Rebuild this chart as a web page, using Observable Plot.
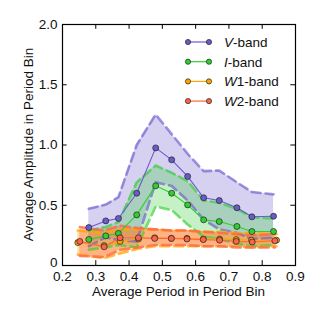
<!DOCTYPE html>
<html><head><meta charset="utf-8">
<script src="https://cdn.jsdelivr.net/npm/d3@7"></script>
<script src="https://cdn.jsdelivr.net/npm/@observablehq/plot@0.6"></script>
<style>body{margin:0;background:#fff} #chart svg{font-family:"Liberation Sans",Arial,sans-serif;background:#fff}</style>
</head><body><div id="chart"></div>
<script>
// ---- data ----
const bandNames = ["V", "I", "W1", "W2"];
const vX     = [0.279,0.330,0.368,0.423,0.480,0.528,0.576,0.624,0.671,0.724,0.769,0.834];
const vMean  = [0.315,0.370,0.390,0.600,0.976,0.877,0.739,0.562,0.539,0.479,0.404,0.409];
const vUpper = [0.470,0.506,0.567,1.000,1.253,1.090,0.927,0.783,0.788,0.690,0.610,0.590];
const vLower = [0.160,0.234,0.210,0.200,0.690,0.660,0.540,0.380,0.300,0.270,0.220,0.230];

const iX     = [0.279,0.330,0.368,0.423,0.480,0.528,0.576,0.624,0.671,0.724,0.769,0.834];
const iMean  = [0.216,0.246,0.266,0.420,0.661,0.600,0.503,0.379,0.365,0.324,0.282,0.282];
const iUpper = [0.290,0.320,0.360,0.690,0.830,0.770,0.700,0.540,0.520,0.470,0.400,0.390];
const iLower = [0.130,0.150,0.170,0.150,0.490,0.460,0.340,0.240,0.220,0.180,0.160,0.170];

const w1X     = [0.246,0.325,0.373,0.428,0.477,0.527,0.574,0.623,0.672,0.722,0.768,0.843];
const w1Mean  = [0.190,0.165,0.200,0.220,0.230,0.225,0.225,0.220,0.220,0.215,0.210,0.210];
const w1Upper = [0.290,0.270,0.300,0.300,0.300,0.290,0.290,0.280,0.280,0.270,0.270,0.260];
const w1Lower = [0.090,0.060,0.100,0.140,0.160,0.160,0.160,0.160,0.160,0.160,0.150,0.160];

const w2X     = [0.252,0.325,0.373,0.428,0.477,0.527,0.574,0.623,0.672,0.722,0.770,0.838];
const w2Mean  = [0.200,0.155,0.230,0.230,0.225,0.225,0.220,0.215,0.210,0.200,0.195,0.205];
const w2Upper = [0.320,0.290,0.330,0.310,0.300,0.290,0.290,0.280,0.270,0.260,0.250,0.260];
const w2Lower = [0.080,0.070,0.130,0.150,0.170,0.170,0.170,0.160,0.160,0.150,0.150,0.150];

const xTicks = [0.2,0.3,0.4,0.5,0.6,0.7,0.8,0.9];
const yTicks = [0,0.5,1.0,1.5,2.0];
const colors = ["#6a5acd","#32cd32","#ffa500","#ff6347"];

// ---- build tables ----
const raw = [[vX,vMean,vLower,vUpper],[iX,iMean,iLower,iUpper],[w1X,w1Mean,w1Lower,w1Upper],[w2X,w2Mean,w2Lower,w2Upper]];
const series = raw.map(([xs,m,lo,hi],k) => xs.map((x,j)=>({band:bandNames[k], x, mean:m[j], lo:lo[j], hi:hi[j]})));
const color = k => colors[k];

const marks = [];
series.forEach((rows,k)=>{
  marks.push(Plot.areaY(rows,{x:"x", y1:"lo", y2:"hi", fill:color(k), fillOpacity: k<2?0.28:0.36, curve:"linear"}));
});
series.forEach((rows,k)=>{
  for (const key of ["hi","lo"]) {
    marks.push(Plot.line(rows,{x:"x", y:key, stroke:color(k), strokeOpacity:k<2?0.65:0.75, strokeWidth:2.6, strokeDasharray:"9,5"}));
  }
});
series.forEach((rows,k)=>{
  marks.push(Plot.line(rows,{x:"x", y:"mean", stroke:color(k), strokeWidth:1.1}));
  marks.push(Plot.dot(rows,{x:"x", y:"mean", r:3, fill:color(k), stroke:"#222", strokeWidth:0.7}));
});
// inward ticks on all four sides
marks.push(Plot.ruleX(xTicks,{x:d=>d, y1:0, y2:0.04, stroke:"black"}));
marks.push(Plot.ruleX(xTicks,{x:d=>d, y1:2, y2:1.96, stroke:"black"}));
marks.push(Plot.ruleY(yTicks,{y:d=>d, x1:0.2, x2:0.214, stroke:"black"}));
marks.push(Plot.ruleY(yTicks,{y:d=>d, x1:0.9, x2:0.886, stroke:"black"}));
marks.push(Plot.axisX(xTicks,{tickSize:0, tickPadding:6, tickFormat:d3.format(".1f"), fontSize:13.5, label:null, fill:"#111"}));
marks.push(Plot.axisY(yTicks.filter(d=>d>0),{tickSize:0, tickPadding:5, tickFormat:d3.format(".1f"), fontSize:13.5, label:null, fill:"#111"}));
marks.push(Plot.axisY([0],{tickSize:0, tickPadding:5, tickFormat:()=>"0", fontSize:13.5, label:null, fill:"#111", dy:-3}));
marks.push(Plot.frame({stroke:"black", strokeWidth:1.2}));

const plot = Plot.plot({
  width:324, height:319,
  marginLeft:62, marginRight:29, marginTop:24, marginBottom:54,
  x:{domain:[0.2,0.9]},
  y:{domain:[0,2]},
  style:{fontFamily:"Liberation Sans, Arial, sans-serif", fontSize:"13.5px", background:"#fff"},
  marks
});
document.getElementById("chart").appendChild(plot);

// axis titles and legend
const svg = d3.select(plot);
svg.append("text").attr("x",178.5).attr("y",296).attr("text-anchor","middle")
  .attr("font-size",13.5).attr("fill","#111").text("Average Period in Period Bin");
svg.append("text").attr("transform","translate(33,144.5) rotate(-90)").attr("text-anchor","middle")
  .attr("font-size",13.5).attr("fill","#111").text("Average Amplitude in Period Bin");

const leg = svg.append("g").attr("text-anchor","start");
bandNames.forEach((name,k)=>{
  const cy = 42 + k*19.7;
  leg.append("line").attr("x1",188).attr("x2",209).attr("y1",cy).attr("y2",cy).attr("stroke",color(k)).attr("stroke-width",1.2);
  for (const cx of [188,209]) leg.append("circle").attr("cx",cx).attr("cy",cy).attr("r",2.6).attr("fill",color(k)).attr("stroke","#222").attr("stroke-width",0.7);
  const m = name.match(/^([A-Z])(\d*)$/);
  const t = leg.append("text").attr("x",224).attr("y",cy+4.8).attr("font-size",13.5).attr("fill","#111").attr("text-anchor","start");
  t.append("tspan").attr("font-style","italic").text(m[1]);
  t.append("tspan").text(m[2]+"-band");
});
</script></body></html>
